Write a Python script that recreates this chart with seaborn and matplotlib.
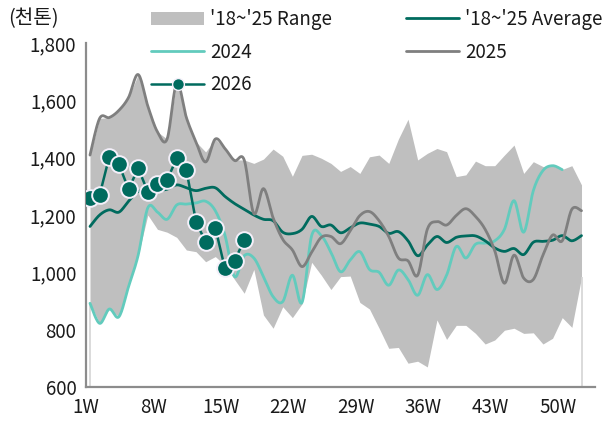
import numpy as np
import pandas as pd
import matplotlib
matplotlib.use("Agg")
import matplotlib.pyplot as plt
import seaborn as sns
from matplotlib.patches import Patch
from matplotlib.lines import Line2D
from matplotlib.ticker import FuncFormatter

# ---- weekly data (thousand tonnes) ----
weeks = list(range(1, 53))
tick_weeks = [1, 8, 15, 22, 29, 36, 43, 50]
tick_labels = [f"{w}W" for w in tick_weeks]

range_max = [1409, 1537, 1540, 1565, 1610, 1690, 1580, 1490, 1465, 1660,
             1540, 1455, 1420, 1465, 1432, 1392, 1392, 1380, 1395, 1430,
             1405, 1335, 1408, 1412, 1398, 1380, 1352, 1369, 1345, 1403,
             1409, 1380, 1465, 1534, 1392, 1415, 1432, 1421, 1334, 1340,
             1388, 1372, 1372, 1409, 1444, 1345, 1386, 1369, 1372, 1359,
             1372, 1305]
range_min = [892, 822, 872, 845, 950, 1060, 1200, 1150, 1140, 1122,
             1078, 1072, 1037, 1055, 1025, 975, 927, 1010, 851, 805,
             880, 842, 890, 1035, 990, 940, 985, 987, 895, 872,
             805, 735, 738, 683, 690, 670, 834, 766, 815, 815,
             787, 750, 764, 798, 805, 787, 789, 750, 770, 842,
             808, 982]
avg_18_25 = [1160, 1200, 1218, 1210, 1248, 1282, 1280, 1285, 1290, 1305,
             1295, 1285, 1293, 1295, 1265, 1240, 1220, 1200, 1185, 1180,
             1140, 1135, 1150, 1195, 1160, 1165, 1138, 1155, 1172, 1168,
             1160, 1136, 1142, 1110, 1058, 1095, 1125, 1104, 1122, 1127,
             1127, 1110, 1085, 1073, 1083, 1062, 1105, 1108, 1112, 1128,
             1110, 1128]
y2024 = [892, 822, 872, 845, 950, 1060, 1225, 1210, 1185, 1235,
         1238, 1242, 1248, 1215, 1130, 985, 1058, 1050, 985, 915,
         898, 990, 895, 1128, 1128, 1070, 1002, 1043, 1072, 1010,
         1000, 955, 1008, 975, 920, 992, 940, 990, 1090, 1050,
         1098, 1102, 1110, 1150, 1250, 1140, 1285, 1355, 1372, 1358]
y2025 = [1409, 1537, 1540, 1565, 1610, 1690, 1580, 1490, 1465, 1660,
         1540, 1455, 1385, 1465, 1432, 1390, 1392, 1205, 1292, 1190,
         1115, 1078, 1020, 1070, 1122, 1125, 1100, 1145, 1198, 1212,
         1180, 1125, 1050, 1040, 990, 1150, 1177, 1165, 1198, 1222,
         1195, 1150, 1075, 962, 1060, 980, 975, 1060, 1130, 1110,
         1220, 1215]
y2026 = [1260, 1270, 1403, 1377, 1290, 1363, 1281, 1308, 1322, 1398,
         1357, 1177, 1105, 1156, 1014, 1040, 1113]

C_BAND = "#bfbfbf"
C_AVG = "#006b5e"
C_24 = "#62cbbd"
C_25 = "#7f7f7f"
C_26 = "#006b5e"
C_TEXT = "#1a1a1a"
FS = 13.5


def smooth(x, y, n=16):
    """Smoothed polyline through the points (cubic Bezier / Catmull-Rom)."""
    p = np.column_stack([np.asarray(x, float), np.asarray(y, float)])
    pad = np.vstack([p[:1], p, p[-1:]])
    t = np.linspace(0, 1, n)[:, None]
    segs = []
    for i in range(len(p) - 1):
        p0, p1, p2, p3 = pad[i], pad[i + 1], pad[i + 2], pad[i + 3]
        c1 = p1 + (p2 - p0) / 6.0
        c2 = p2 - (p3 - p1) / 6.0
        b = ((1 - t) ** 3) * p1 + 3 * ((1 - t) ** 2) * t * c1 + 3 * (1 - t) * t ** 2 * c2 + t ** 3 * p2
        segs.append(b if i == 0 else b[1:])
    s = np.vstack(segs)
    return pd.DataFrame({"week": s[:, 0], "value": s[:, 1]})


sns.set_style("white")
plt.rcParams["font.family"] = ["Noto Sans CJK KR", "DejaVu Sans"]

fig = plt.figure(figsize=(6.13, 4.28), dpi=100)
ax = fig.add_axes([86 / 613, 1 - 387 / 428, (595 - 86) / 613, (387 - 43) / 428])

# range band
ax.fill_between(weeks, range_min, range_max, color=C_BAND, linewidth=0, zorder=1)
ax.vlines([weeks[0], weeks[-1]], 600, [range_min[0], range_min[-1]],
          color="#d4d4d4", linewidth=1.2, zorder=1)

sns.lineplot(data=smooth(weeks[:len(y2024)], y2024), x="week", y="value", ax=ax,
             color=C_24, linewidth=2.0, sort=False, estimator=None, zorder=3)
sns.lineplot(data=smooth(weeks, avg_18_25), x="week", y="value", ax=ax,
             color=C_AVG, linewidth=2.0, sort=False, estimator=None, zorder=4)
sns.lineplot(data=smooth(weeks, y2025), x="week", y="value", ax=ax,
             color=C_25, linewidth=2.0, sort=False, estimator=None, zorder=4)
sns.lineplot(x=weeks[:len(y2026)], y=y2026, ax=ax, color=C_26, linewidth=1.8,
             marker="o", markersize=12, markeredgecolor="#f4f0fa",
             markeredgewidth=1.4, sort=False, estimator=None, zorder=5)

ax.set_xlim(0.585, 53.4)
ax.set_ylim(600, 1800)
ax.set_yticks(range(600, 1801, 200))
ax.yaxis.set_major_formatter(FuncFormatter(lambda v, _: f"{int(v):,}"))
ax.set_xticks([w - 0.415 for w in tick_weeks])
ax.set_xticklabels(tick_labels)
ax.set_xlabel("")
ax.set_ylabel("")

for side in ("top", "right"):
    ax.spines[side].set_visible(False)
for side in ("left", "bottom"):
    ax.spines[side].set_color("#8c8c8c")
    ax.spines[side].set_linewidth(1.6)
ax.tick_params(axis="both", direction="out", length=4, width=1.4,
               color="#8c8c8c", labelsize=FS, labelcolor=C_TEXT, pad=3)
ax.grid(False)

fig.text(8 / 613, 1 - 19 / 428, "(천톤)", ha="left", va="center",
         fontsize=14.5, color=C_TEXT)

handles = [
    Patch(facecolor=C_BAND, edgecolor="none"),
    Line2D([], [], color=C_24, linewidth=2.0),
    Line2D([], [], color=C_26, linewidth=1.8, marker="o", markersize=8.5,
           markeredgecolor="#f4f0fa", markeredgewidth=1.0),
    Line2D([], [], color=C_AVG, linewidth=2.0),
    Line2D([], [], color=C_25, linewidth=2.0),
]
labels = ["'18~'25 Range", "2024", "2026", "'18~'25 Average", "2025"]
leg = ax.legend(handles, labels, ncol=2, loc="upper left",
                bbox_to_anchor=(151 / 613, 1 - 9 / 428),
                bbox_transform=fig.transFigure, frameon=False, fontsize=FS,
                handlelength=2.85, handletextpad=0.3, columnspacing=3.95,
                labelspacing=0.62, borderpad=0, borderaxespad=0)
for t in leg.get_texts():
    t.set_color(C_TEXT)

fig.savefig("out.png", dpi=100)
